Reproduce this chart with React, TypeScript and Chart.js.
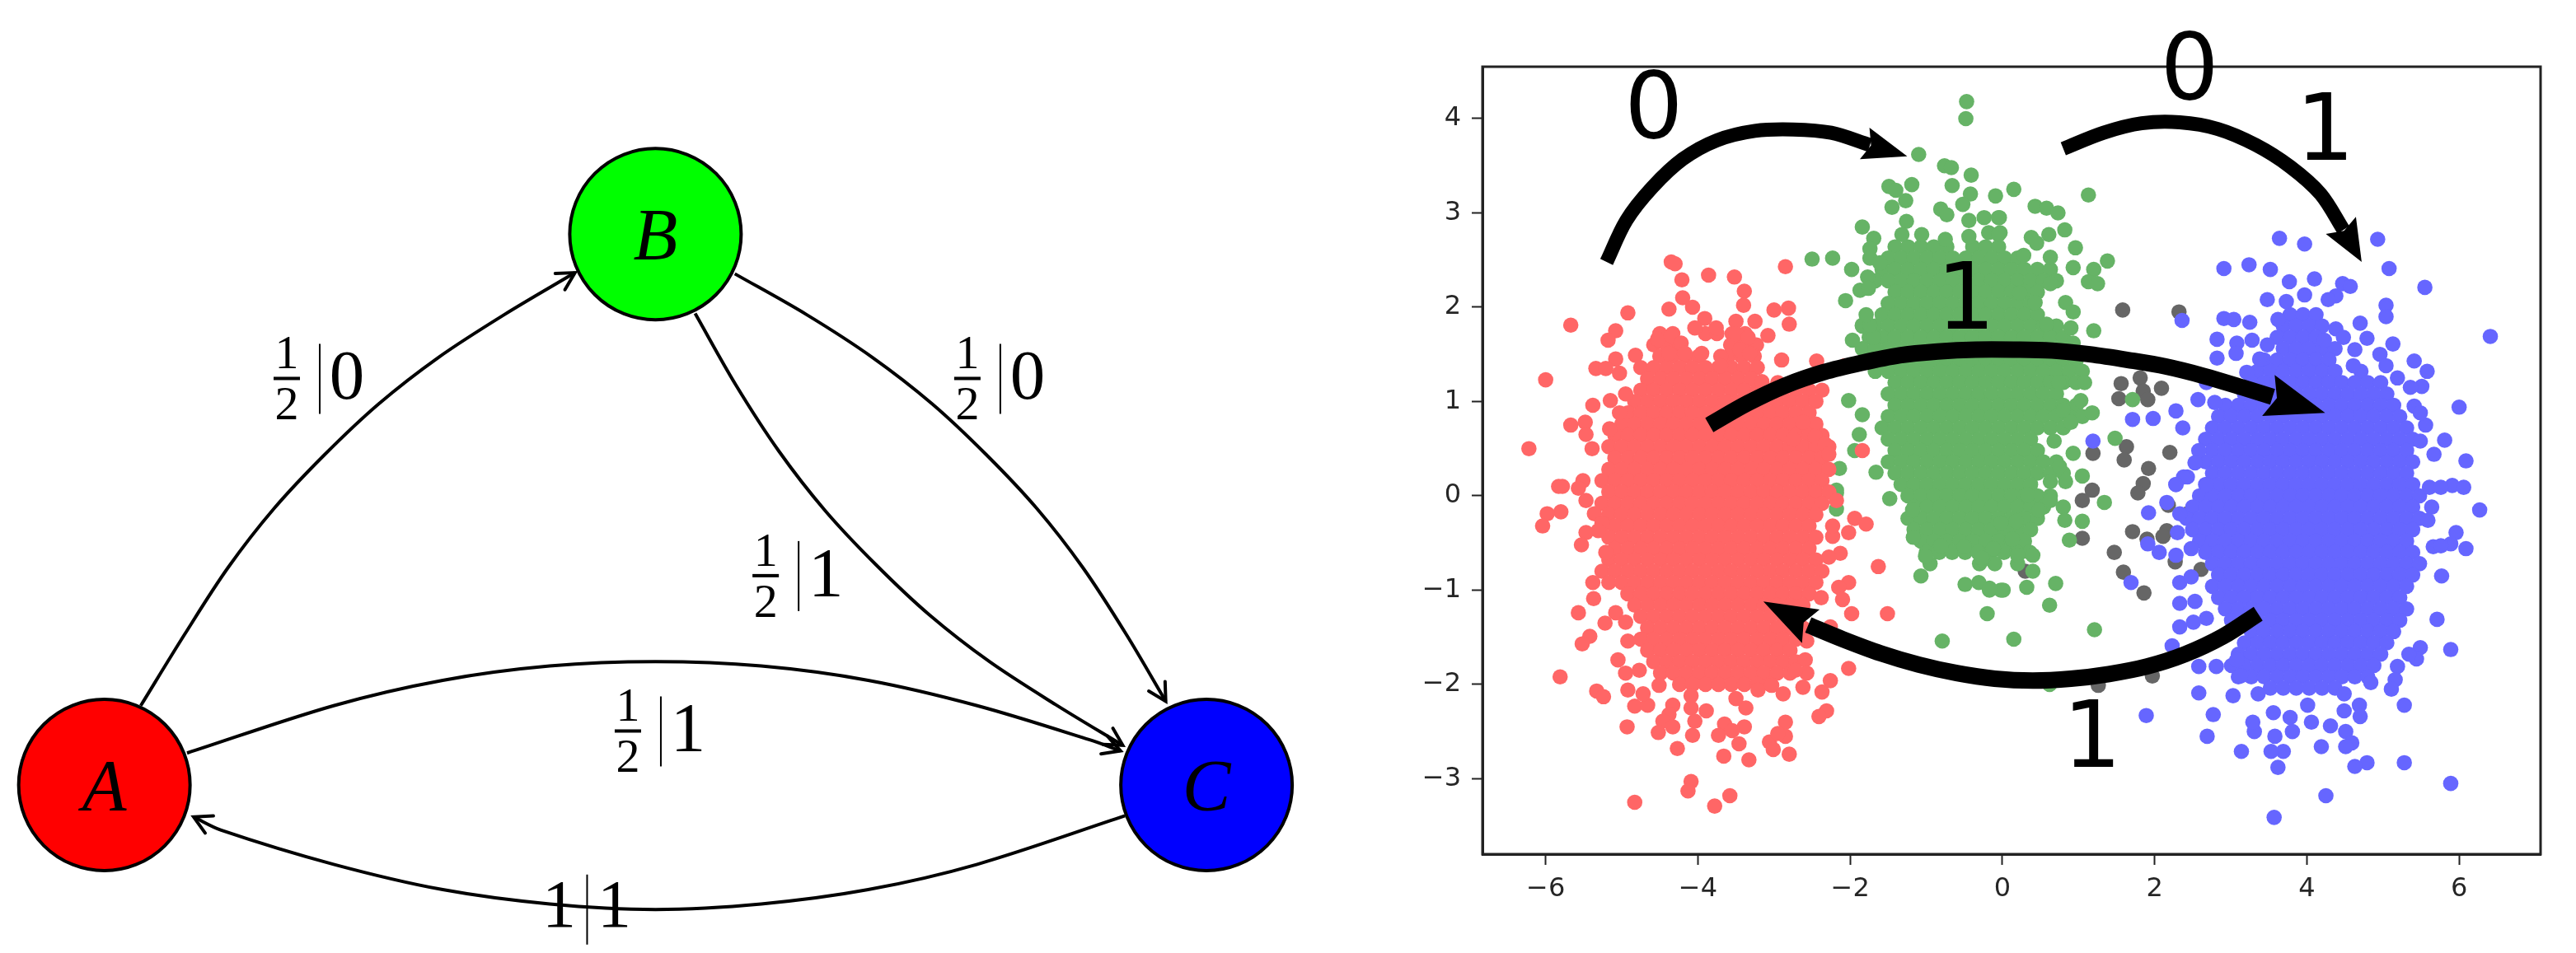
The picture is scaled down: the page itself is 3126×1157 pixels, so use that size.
import React, { useEffect, useRef } from 'react';
import Chart from 'chart.js/auto';

// ---- state diagram ----
const nodeNames = ['A', 'B', 'C'];
const nodeX = [0, 5, 10];
const nodeY = [0, 5, 0];
const nodeColors = ['#ff0000', '#00ff00', '#0000ff'];

const edgeAB = [[0.33, 0.72], [0.73, 1.37], [1.12, 1.97], [1.54, 2.51], [2.0, 3.0], [2.49, 3.46], [3.03, 3.88], [3.63, 4.27], [4.27, 4.65]];
const edgeBCouter = [[5.72, 4.64], [6.37, 4.27], [6.97, 3.88], [7.51, 3.46], [8.0, 3.0], [8.46, 2.51], [8.88, 1.97], [9.27, 1.37], [9.63, 0.76]];
const edgeBCinner = [[5.36, 4.28], [5.73, 3.63], [6.12, 3.03], [6.54, 2.49], [7.0, 2.0], [7.49, 1.54], [8.03, 1.12], [8.63, 0.73], [9.24, 0.36]];
const edgeAC = [[0.75, 0.29], [2.08, 0.72], [3.07, 0.95], [4.04, 1.08], [5, 1.12], [5.96, 1.08], [6.93, 0.95], [7.92, 0.72], [8.94, 0.41], [9.22, 0.31]];
const edgeCA = [[9.26, -0.28], [7.92, -0.72], [6.93, -0.95], [5.96, -1.08], [5, -1.13], [4.04, -1.08], [3.07, -0.95], [2.08, -0.72], [1.06, -0.41], [0.81, -0.29]];
const edges = [edgeAB, edgeBCouter, edgeBCinner, edgeAC, edgeCA];

const fractionLabels: [number, number, string][] = [
  [1.655, 3.69, '0'],
  [7.83, 3.69, '0'],
  [6.0, 1.9, '1'],
  [4.75, 0.49, '1'],
];
const wholeLabel: [number, number, string, string] = [4.38, -1.127, '1', '1'];

// ---- scatter ----
const xTicks = [-6, -4, -2, 0, 2, 4, 6];
const yTicks = [-3, -2, -1, 0, 1, 2, 3, 4];

// each row: y, then the x values along that row
const redCore = [
  [1.72, -4.5, -4.33, -3.9, -3.75, -3.55, -3.38],
  [1.6, -4.58, -4.41, -4.24, -3.57, -3.4, -3.23],
  [1.48, -4.5, -4.33, -4.16, -3.99, -3.6, -3.43, -3.26],
  [1.36, -4.75, -4.58, -4.41, -4.24, -4.07, -3.9, -3.73, -3.56, -3.39, -3.22],
  [1.24, -4.66, -4.49, -4.32, -4.15, -3.98, -3.81, -3.64, -3.47, -3.3],
  [1.12, -4.75, -4.58, -4.41, -4.24, -4.07, -3.9, -3.73, -3.56, -3.39, -3.22, -3.05, -2.88, -2.71, -2.54, -2.37],
  [1.0, -4.83, -4.66, -4.49, -4.32, -4.15, -3.98, -3.81, -3.64, -3.47, -3.3, -3.13, -2.96, -2.79, -2.62, -2.45],
  [0.88, -4.92, -4.75, -4.58, -4.41, -4.24, -4.07, -3.9, -3.73, -3.56, -3.39, -3.22, -3.05, -2.88, -2.71, -2.54],
  [0.76, -5, -4.83, -4.66, -4.49, -4.32, -4.15, -3.98, -3.81, -3.64, -3.47, -3.3, -3.13, -2.96, -2.79, -2.62, -2.45],
  [0.64, -5.09, -4.92, -4.75, -4.58, -4.41, -4.24, -4.07, -3.9, -3.73, -3.56, -3.39, -3.22, -3.05, -2.88, -2.71, -2.54, -2.37],
  [0.52, -5.17, -5, -4.83, -4.66, -4.49, -4.32, -4.15, -3.98, -3.81, -3.64, -3.47, -3.3, -3.13, -2.96, -2.79, -2.62, -2.45, -2.28],
  [0.4, -5.09, -4.92, -4.75, -4.58, -4.41, -4.24, -4.07, -3.9, -3.73, -3.56, -3.39, -3.22, -3.05, -2.88, -2.71, -2.54, -2.37],
  [0.28, -5.17, -5, -4.83, -4.66, -4.49, -4.32, -4.15, -3.98, -3.81, -3.64, -3.47, -3.3, -3.13, -2.96, -2.79, -2.62, -2.45, -2.28],
  [0.16, -5.26, -5.09, -4.92, -4.75, -4.58, -4.41, -4.24, -4.07, -3.9, -3.73, -3.56, -3.39, -3.22, -3.05, -2.88, -2.71, -2.54, -2.37],
  [0.04, -5.17, -5, -4.83, -4.66, -4.49, -4.32, -4.15, -3.98, -3.81, -3.64, -3.47, -3.3, -3.13, -2.96, -2.79, -2.62, -2.45, -2.28],
  [-0.08, -5.26, -5.09, -4.92, -4.75, -4.58, -4.41, -4.24, -4.07, -3.9, -3.73, -3.56, -3.39, -3.22, -3.05, -2.88, -2.71, -2.54, -2.37],
  [-0.2, -5.17, -5, -4.83, -4.66, -4.49, -4.32, -4.15, -3.98, -3.81, -3.64, -3.47, -3.3, -3.13, -2.96, -2.79, -2.62, -2.45],
  [-0.32, -5.26, -5.09, -4.92, -4.75, -4.58, -4.41, -4.24, -4.07, -3.9, -3.73, -3.56, -3.39, -3.22, -3.05, -2.88, -2.71, -2.54],
  [-0.44, -5.17, -5, -4.83, -4.66, -4.49, -4.32, -4.15, -3.98, -3.81, -3.64, -3.47, -3.3, -3.13, -2.96, -2.79, -2.62, -2.45],
  [-0.56, -5.09, -4.92, -4.75, -4.58, -4.41, -4.24, -4.07, -3.9, -3.73, -3.56, -3.39, -3.22, -3.05, -2.88, -2.71, -2.54],
  [-0.68, -5.17, -5, -4.83, -4.66, -4.49, -4.32, -4.15, -3.98, -3.81, -3.64, -3.47, -3.3, -3.13, -2.96, -2.79, -2.62, -2.45],
  [-0.8, -5.26, -5.09, -4.92, -4.75, -4.58, -4.41, -4.24, -4.07, -3.9, -3.73, -3.56, -3.39, -3.22, -3.05, -2.88, -2.71, -2.54, -2.37],
  [-0.92, -5.17, -5, -4.83, -4.66, -4.49, -4.32, -4.15, -3.98, -3.81, -3.64, -3.47, -3.3, -3.13, -2.96, -2.79, -2.62, -2.45],
  [-1.04, -4.92, -4.75, -4.58, -4.41, -4.24, -4.07, -3.9, -3.73, -3.56, -3.39, -3.22, -3.05, -2.88, -2.71, -2.54],
  [-1.16, -4.83, -4.66, -4.49, -4.32, -4.15, -3.98, -3.81, -3.64, -3.47, -3.3, -3.13, -2.96, -2.79, -2.62],
  [-1.28, -4.75, -4.58, -4.41, -4.24, -4.07, -3.9, -3.73, -3.56, -3.39, -3.22, -3.05, -2.88, -2.71],
  [-1.4, -4.66, -4.49, -4.32, -4.15, -3.98, -3.81, -3.64, -3.47, -3.3, -3.13, -2.96, -2.79, -2.62],
  [-1.52, -4.75, -4.58, -4.41, -4.24, -4.07, -3.9, -3.73, -3.56, -3.39, -3.22, -3.05, -2.88, -2.71],
  [-1.64, -4.66, -4.49, -4.32, -4.15, -3.98, -3.81, -3.64, -3.47, -3.3, -3.13, -2.96, -2.79],
  [-1.76, -4.58, -4.41, -4.24, -4.07, -3.9, -3.73, -3.56, -3.39, -3.22, -3.05, -2.88, -2.71],
  [-1.88, -4.49, -4.32, -4.15, -3.98, -3.81, -3.64, -3.47, -3.3, -3.13, -2.96, -2.79],
  [-2.0, -4.24, -4.07, -3.9, -3.73, -3.56, -3.39, -3.22, -3.05],
];

const redScatter = [
  [-4.35, 2.48], [-4.3, 2.46], [-2.85, 2.43], [-3.86, 2.34], [-3.52, 2.32], [-4.21, 2.29], [-3.39, 2.17], [-4.2, 2.1],
  [-4.07, 2.0], [-3.4, 2.02], [-4.38, 1.98], [-3.0, 1.97], [-2.81, 1.99], [-4.92, 1.94], [-3.91, 1.88], [-3.5, 1.85],
  [-3.25, 1.85], [-5.67, 1.81], [-2.8, 1.82], [-5.08, 1.75], [-5.18, 1.65], [-4.53, 1.66], [-4.35, 1.7], [-4.22, 1.62],
  [-4.04, 1.78], [-3.76, 1.78], [-3.5, 1.72], [-3.34, 1.68], [-3.08, 1.7], [-3.45, 1.55], [-3.32, 1.51], [-4.82, 1.49],
  [-4.38, 1.51], [-4.17, 1.51], [-3.95, 1.51], [-3.7, 1.48], [-3.7, 1.38], [-5.08, 1.45], [-2.9, 1.44], [-2.44, 1.43],
  [-2.07, 1.38], [-5.34, 1.35], [-5.21, 1.35], [-5.03, 1.3], [-6.0, 1.23], [-3.16, 1.21], [-2.95, 1.2], [-4.95, 1.08],
  [-5.15, 1.01], [-5.38, 0.96], [-5.67, 0.75], [-5.48, 0.78], [-5.47, 0.65], [-6.22, 0.5], [-5.39, 0.5], [-5.03, 0.88],
  [-5.16, 0.71], [-2.75, 0.6], [-2.46, 0.63], [-2.33, 0.55], [-2.28, 0.44], [-1.84, 0.48], [-2.62, 0.78],
  [-5.83, 0.1], [-5.78, 0.1], [-5.51, 0.16], [-5.57, 0.08], [-5.47, -0.05], [-5.36, -0.19], [-5.26, -0.29], [-5.8, -0.17],
  [-5.98, -0.19], [-6.04, -0.32], [-5.47, -0.39], [-5.31, -0.37], [-5.53, -0.52], [-5.21, -0.6], [-5.38, -0.92], [-5.37, -1.09],
  [-5.57, -1.24], [-5.22, -1.35], [-5.08, -1.24], [-4.95, -1.34], [-5.42, -1.49], [-5.52, -1.57], [-4.92, -1.54], [-5.05, -1.74],
  [-4.95, -1.88], [-4.77, -1.85], [-4.92, -2.06], [-5.81, -1.92], [-5.33, -2.07], [-5.24, -2.13], [-4.83, -2.23], [-4.66, -2.22],
  [-4.72, -2.1], [-4.51, -2.01], [-4.33, -2.22], [-4.38, -2.32], [-4.46, -2.39], [-4.33, -2.45], [-4.93, -2.45], [-4.52, -2.51],
  [-4.09, -2.25], [-3.89, -2.28], [-4.04, -2.39], [-4.07, -2.54], [-4.09, -2.12], [-4.27, -2.68], [-3.65, -2.42], [-3.73, -2.54],
  [-3.39, -2.45], [-3.55, -2.49], [-3.46, -2.63], [-3.37, -2.25], [-3.5, -2.15], [-3.66, -2.76], [-3.33, -2.8], [-3.21, -2.06],
  [-3.03, -2.01], [-2.88, -2.1], [-2.85, -2.4], [-2.85, -2.55], [-3.06, -2.61], [-2.95, -2.52], [-2.8, -2.74], [-3.01, -2.69],
  [-4.09, -3.03], [-4.13, -3.13], [-3.58, -3.18], [-3.78, -3.29], [-4.83, -3.25], [-2.59, -1.74], [-2.57, -1.88], [-2.62, -2.03],
  [-2.72, -1.85], [-2.26, -1.96], [-2.37, -2.08], [-2.31, -2.28], [-2.41, -2.34], [-2.02, -1.83], [-2.26, -1.39], [-2.57, -1.54],
  [-1.98, -1.25], [-1.51, -1.25], [-1.63, -0.75], [-2.02, -0.92], [-2.15, -0.97], [-2.1, -1.1], [-2.38, -1.08], [-2.13, -0.61],
  [-2.28, -0.65], [-2.23, -0.43], [-2.02, -0.39], [-1.94, -0.24], [-1.79, -0.3], [-2.23, -0.32], [-2.18, -0.05],
];

const greenCore = [
  [2.64, -1.41, -1.24, -1.07, -0.9, -0.73, -0.39, -0.22, -0.05],
  [2.52, -1.5, -1.33, -1.16, -0.99, -0.82, -0.65, -0.48, -0.31, -0.14, 0.03, 0.2],
  [2.4, -1.58, -1.41, -1.24, -1.07, -0.9, -0.73, -0.56, -0.39, -0.22, -0.05, 0.12, 0.29, 0.46, 0.63],
  [2.28, -1.67, -1.5, -1.33, -1.16, -0.99, -0.82, -0.65, -0.48, -0.31, -0.14, 0.03, 0.2, 0.37, 0.54, 0.71],
  [2.16, -1.41, -1.24, -1.07, -0.9, -0.73, -0.56, -0.39, -0.22, -0.05, 0.12, 0.29, 0.46],
  [2.04, -1.5, -1.33, -1.16, -0.99, -0.82, -0.65, -0.48, -0.31, -0.14, 0.03, 0.2, 0.37],
  [1.92, -1.58, -1.41, -1.24, -1.07, -0.9, -0.73, -0.56, -0.39, -0.22, -0.05, 0.12, 0.29, 0.46],
  [1.8, -1.84, -1.67, -1.5, -1.33, -1.16, -0.99, -0.82, -0.65, -0.48, -0.31, -0.14, 0.03, 0.2, 0.37, 0.54, 0.71],
  [1.68, -1.75, -1.58, -1.41, -1.24, -1.07, -0.9, -0.73, -0.56, -0.39, -0.22, -0.05, 0.12, 0.29, 0.46, 0.63, 0.8],
  [1.56, -1.84, -1.67, -1.5, -1.33, -1.16, -0.99, -0.82, -0.65, -0.48, -0.31, -0.14, 0.03, 0.2, 0.37, 0.54, 0.71, 0.88],
  [1.44, -1.75, -1.58, -1.41, -1.24, -1.07, -0.9, -0.73, -0.56, -0.39, -0.22, -0.05, 0.12, 0.29, 0.46, 0.63, 0.8, 0.97],
  [1.32, -1.67, -1.5, -1.33, -1.16, -0.99, -0.82, -0.65, -0.48, -0.31, -0.14, 0.03, 0.2, 0.37, 0.54, 0.71, 0.88, 1.05],
  [1.2, -1.41, -1.24, -1.07, -0.9, -0.73, -0.56, -0.39, -0.22, -0.05, 0.12, 0.29, 0.46, 0.63, 0.8, 0.97],
  [1.08, -1.5, -1.33, -1.16, -0.99, -0.82, -0.65, -0.48, -0.31, -0.14, 0.03, 0.2, 0.37, 0.54, 0.71],
  [0.96, -1.41, -1.24, -1.07, -0.9, -0.73, -0.56, -0.39, -0.22, -0.05, 0.12, 0.29, 0.46, 0.63, 0.8, 0.97],
  [0.84, -1.5, -1.33, -1.16, -0.99, -0.82, -0.65, -0.48, -0.31, -0.14, 0.03, 0.2, 0.37, 0.54, 0.71, 0.88, 1.05],
  [0.72, -1.58, -1.41, -1.24, -1.07, -0.9, -0.73, -0.56, -0.39, -0.22, -0.05, 0.12, 0.29, 0.46, 0.63, 0.8],
  [0.6, -1.5, -1.33, -1.16, -0.99, -0.82, -0.65, -0.48, -0.31, -0.14, 0.03, 0.2, 0.37],
  [0.48, -1.41, -1.24, -1.07, -0.9, -0.73, -0.56, -0.39, -0.22, -0.05, 0.12, 0.29, 0.46],
  [0.36, -1.5, -1.33, -1.16, -0.99, -0.82, -0.65, -0.48, -0.31, -0.14, 0.03, 0.2, 0.37, 0.54, 0.71],
  [0.24, -1.41, -1.24, -1.07, -0.9, -0.73, -0.56, -0.39, -0.22, -0.05, 0.12, 0.29, 0.46, 0.63, 0.8],
  [0.12, -1.33, -1.16, -0.99, -0.82, -0.65, -0.48, -0.31, -0.14, 0.03, 0.2, 0.37],
  [0.0, -1.24, -1.07, -0.9, -0.73, -0.56, -0.39, -0.22, -0.05, 0.12, 0.29, 0.46, 0.63],
  [-0.12, -1.16, -0.99, -0.82, -0.65, -0.48, -0.31, -0.14, 0.03, 0.2, 0.37, 0.54],
  [-0.24, -1.24, -1.07, -0.9, -0.73, -0.56, -0.39, -0.22, -0.05, 0.12, 0.29, 0.46],
  [-0.36, -1.16, -0.99, -0.82, -0.65, -0.48, -0.31, -0.14, 0.03, 0.2, 0.37],
  [-0.48, -1.07, -0.9, -0.73, -0.56, -0.39, -0.22, -0.05, 0.12, 0.29],
  [-0.6, -1.0, -0.83, -0.66, -0.49, -0.32, -0.15, 0.02, 0.19, 0.36],
  [-0.72, -0.95, -0.3, -0.1, 0.2],
];

const greenScatter = [
  [-0.47, 4.18], [-0.48, 4.0], [-1.1, 3.62], [-0.76, 3.5], [-0.67, 3.48], [-0.41, 3.4], [-1.49, 3.28], [-1.19, 3.3], [-1.4, 3.24],
  [-0.66, 3.29], [-0.42, 3.2], [-0.09, 3.18], [0.15, 3.25], [-1.27, 3.13], [-1.45, 3.06], [-0.81, 3.04], [-0.73, 2.98], [-0.52, 3.09],
  [-1.26, 2.91], [-1.84, 2.85], [-1.69, 2.73], [-1.74, 2.62], [-0.44, 2.92], [-0.24, 2.95], [-0.04, 2.95], [-0.03, 2.79], [-1.32, 2.77],
  [-1.06, 2.77], [-0.75, 2.72], [-0.44, 2.75], [-0.18, 2.79], [-2.5, 2.51], [-2.23, 2.52], [-1.98, 2.4], [-1.77, 2.32], [-1.74, 2.52],
  [-1.61, 2.47], [-1.87, 2.18], [-2.06, 2.07], [-1.76, 2.2], [-1.84, 1.81], [-1.69, 1.68], [-1.97, 1.65], [-1.74, 1.81], [-1.79, 1.92],
  [-2.02, 1.01], [-1.84, 0.86], [-1.88, 0.65], [-1.94, 0.48], [-2.14, 0.29], [-1.66, 0.25], [-2.18, 0.06], [-2.18, 0.03], [-2.18, -0.14],
  [-1.48, -0.03], [-1.18, -0.15], [-1.17, -0.44], [-1.01, -0.64], [-1.07, -0.85], [-0.49, -0.94], [-0.31, -0.92], [-0.17, -1.0], [0.01, -1.0],
  [-0.2, -1.25], [-0.79, -1.54], [0.15, -1.52], [-0.81, -0.53], [-0.5, -0.54], [-0.26, -0.68], [0.4, -0.8], [0.32, -0.97], [0.7, -0.93],
  [0.62, -1.16], [1.21, -1.42], [-0.02, -1.0], [-0.17, -0.98], [0.4, -0.63], [0.2, -0.63], [0.18, -0.27], [0.63, -0.05], [0.8, -0.12],
  [0.82, -0.26], [0.48, -0.15], [1.05, -0.27], [0.88, -0.47], [1.34, -0.07], [1.05, 0.21], [0.83, 0.15], [0.63, 0.15], [0.33, 0.01],
  [-0.02, -0.29], [0.13, -0.46], [-0.12, -0.56], [-0.27, -0.66], [1.13, 3.19], [0.43, 3.07], [0.58, 3.05], [0.73, 3.0], [0.82, 2.82],
  [0.61, 2.77], [0.38, 2.74], [0.45, 2.68], [0.96, 2.63], [0.93, 2.42], [1.38, 2.49], [1.2, 2.4], [1.13, 2.27], [1.25, 2.25], [0.63, 2.25],
  [0.63, 2.53], [0.28, 2.55], [0.83, 2.05], [0.93, 1.95], [0.9, 1.78], [1.2, 1.75], [0.43, 2.05], [0.58, 1.82], [0.23, 2.15], [-0.05, 2.95],
  [-0.05, 2.77], [0.93, 1.62], [1.08, 1.2], [0.74, 1.2], [1.03, 1.01], [1.18, 0.88], [0.9, 0.78], [1.71, 1.02], [1.48, 0.61], [0.93, 0.45],
  [0.8, 0.91], [0.68, 0.58], [0.75, 0.31], [0.62, -2.0],
];

const blueCore = [
  [1.92, 3.78, 3.95, 4.12],
  [1.8, 3.69, 3.86, 4.03, 4.2],
  [1.68, 3.61, 3.78, 3.95, 4.12],
  [1.56, 3.69, 3.86, 4.03, 4.2, 4.37],
  [1.44, 3.44, 3.61, 3.78, 3.95, 4.12, 4.29],
  [1.32, 3.35, 3.52, 3.69, 3.86, 4.03, 4.2, 4.37, 4.71],
  [1.2, 3.27, 3.44, 3.61, 3.78, 3.95, 4.12, 4.29, 4.46, 4.63, 4.8, 4.97],
  [1.08, 3.18, 3.35, 3.52, 3.69, 3.86, 4.03, 4.2, 4.37, 4.54, 4.71, 4.88, 5.05],
  [0.96, 2.93, 3.1, 3.27, 3.44, 3.61, 3.78, 3.95, 4.12, 4.29, 4.46, 4.63, 4.8, 4.97, 5.14],
  [0.84, 2.84, 3.01, 3.18, 3.35, 3.52, 3.69, 3.86, 4.03, 4.2, 4.37, 4.54, 4.71, 4.88, 5.05, 5.22],
  [0.72, 2.76, 2.93, 3.1, 3.27, 3.44, 3.61, 3.78, 3.95, 4.12, 4.29, 4.46, 4.63, 4.8, 4.97, 5.14, 5.31],
  [0.6, 2.67, 2.84, 3.01, 3.18, 3.35, 3.52, 3.69, 3.86, 4.03, 4.2, 4.37, 4.54, 4.71, 4.88, 5.05, 5.22, 5.39],
  [0.48, 2.76, 2.93, 3.1, 3.27, 3.44, 3.61, 3.78, 3.95, 4.12, 4.29, 4.46, 4.63, 4.8, 4.97, 5.14, 5.31],
  [0.36, 2.67, 2.84, 3.01, 3.18, 3.35, 3.52, 3.69, 3.86, 4.03, 4.2, 4.37, 4.54, 4.71, 4.88, 5.05, 5.22, 5.39],
  [0.24, 2.76, 2.93, 3.1, 3.27, 3.44, 3.61, 3.78, 3.95, 4.12, 4.29, 4.46, 4.63, 4.8, 4.97, 5.14, 5.31],
  [0.12, 2.67, 2.84, 3.01, 3.18, 3.35, 3.52, 3.69, 3.86, 4.03, 4.2, 4.37, 4.54, 4.71, 4.88, 5.05, 5.22, 5.39],
  [0.0, 2.59, 2.76, 2.93, 3.1, 3.27, 3.44, 3.61, 3.78, 3.95, 4.12, 4.29, 4.46, 4.63, 4.8, 4.97, 5.14, 5.31, 5.48],
  [-0.12, 2.5, 2.67, 2.84, 3.01, 3.18, 3.35, 3.52, 3.69, 3.86, 4.03, 4.2, 4.37, 4.54, 4.71, 4.88, 5.05, 5.22, 5.39],
  [-0.24, 2.42, 2.59, 2.76, 2.93, 3.1, 3.27, 3.44, 3.61, 3.78, 3.95, 4.12, 4.29, 4.46, 4.63, 4.8, 4.97, 5.14, 5.31, 5.48],
  [-0.36, 2.5, 2.67, 2.84, 3.01, 3.18, 3.35, 3.52, 3.69, 3.86, 4.03, 4.2, 4.37, 4.54, 4.71, 4.88, 5.05, 5.22, 5.39],
  [-0.48, 2.59, 2.76, 2.93, 3.1, 3.27, 3.44, 3.61, 3.78, 3.95, 4.12, 4.29, 4.46, 4.63, 4.8, 4.97, 5.14, 5.31],
  [-0.6, 2.67, 2.84, 3.01, 3.18, 3.35, 3.52, 3.69, 3.86, 4.03, 4.2, 4.37, 4.54, 4.71, 4.88, 5.05, 5.22, 5.39],
  [-0.72, 2.76, 2.93, 3.1, 3.27, 3.44, 3.61, 3.78, 3.95, 4.12, 4.29, 4.46, 4.63, 4.8, 4.97, 5.14, 5.31, 5.48],
  [-0.84, 2.84, 3.01, 3.18, 3.35, 3.52, 3.69, 3.86, 4.03, 4.2, 4.37, 4.54, 4.71, 4.88, 5.05, 5.22, 5.39],
  [-0.96, 2.76, 2.93, 3.1, 3.27, 3.44, 3.61, 3.78, 3.95, 4.12, 4.29, 4.46, 4.63, 4.8, 4.97, 5.14, 5.31],
  [-1.08, 2.84, 3.01, 3.18, 3.35, 3.52, 3.69, 3.86, 4.03, 4.2, 4.37, 4.54, 4.71, 4.88, 5.05, 5.22],
  [-1.2, 2.93, 3.1, 3.27, 3.44, 3.61, 3.78, 3.95, 4.12, 4.29, 4.46, 4.63, 4.8, 4.97, 5.14, 5.31],
  [-1.32, 3.01, 3.18, 3.35, 3.52, 3.69, 3.86, 4.03, 4.2, 4.37, 4.54, 4.71, 4.88, 5.05, 5.22],
  [-1.44, 3.27, 3.44, 3.61, 3.78, 3.95, 4.12, 4.29, 4.46, 4.63, 4.8, 4.97, 5.14],
  [-1.56, 3.18, 3.35, 3.52, 3.69, 3.86, 4.03, 4.2, 4.37, 4.54, 4.71, 4.88, 5.05],
  [-1.68, 3.1, 3.27, 3.44, 3.61, 3.78, 3.95, 4.12, 4.29, 4.46, 4.63, 4.8, 4.97],
  [-1.8, 3.01, 3.18, 3.35, 3.52, 3.69, 3.86, 4.03, 4.2, 4.37, 4.54, 4.71, 4.88],
  [-1.92, 3.1, 3.27, 3.44, 3.61, 3.78, 3.95, 4.12, 4.29, 4.46, 4.63, 4.8],
  [-2.04, 3.52, 3.69, 3.86, 4.03, 4.2, 4.37],
];

const blueScatter = [
  [3.64, 2.73], [3.97, 2.67], [4.93, 2.72], [5.08, 2.41], [2.91, 2.41], [3.24, 2.45], [3.52, 2.4], [3.77, 2.27], [4.1, 2.3], [4.47, 2.25],
  [4.57, 2.22], [5.55, 2.21], [3.48, 2.08], [3.73, 2.06], [3.97, 2.13], [4.38, 2.12], [4.28, 2.08], [5.04, 2.02], [5.04, 1.9], [2.36, 1.86],
  [2.91, 1.88], [3.04, 1.87], [3.25, 1.84], [3.62, 1.87], [4.7, 1.83], [6.41, 1.69], [2.82, 1.66], [4.38, 1.77], [4.48, 1.68], [4.79, 1.67],
  [4.23, 1.65], [3.08, 1.62], [3.28, 1.65], [3.48, 1.6], [5.13, 1.61], [2.82, 1.46], [3.07, 1.51], [3.38, 1.45], [5.41, 1.43], [5.58, 1.32],
  [4.63, 1.55], [4.96, 1.5], [5.04, 1.38], [4.61, 1.38], [5.19, 1.25], [5.51, 1.16], [5.36, 1.15], [3.21, 1.31], [2.68, 1.2], [2.57, 1.02],
  [2.79, 0.99], [2.28, 0.9], [2.37, 0.72], [1.71, 0.81], [1.98, 0.82], [6.0, 0.94], [5.41, 0.95], [5.56, 0.75], [5.49, 0.88], [5.81, 0.59],
  [5.67, 0.44], [6.09, 0.37], [5.49, 0.58], [1.19, 0.58], [2.58, 0.48], [2.53, 0.35], [2.28, 0.12], [2.43, 0.2], [5.61, 0.09], [5.91, 0.11],
  [6.06, 0.09], [5.76, 0.09], [6.27, -0.15], [5.64, -0.12], [5.59, -0.26], [5.96, -0.39], [5.66, -0.54], [5.89, -0.51], [6.09, -0.56],
  [5.76, -0.53], [5.77, -0.85], [5.71, -1.31], [5.89, -1.63], [5.49, -1.61], [5.44, -1.73], [5.34, -1.68], [5.19, -1.81], [5.16, -1.95],
  [5.11, -2.05], [5.28, -2.22], [4.84, -1.98], [4.69, -2.22], [4.7, -2.34], [4.49, -2.28], [4.31, -2.44], [4.49, -2.1], [4.51, -2.5],
  [4.59, -2.62], [4.51, -2.66], [4.19, -2.66], [5.28, -2.83], [4.79, -2.83], [4.63, -2.87], [5.89, -3.05], [4.25, -3.18], [3.57, -3.41],
  [3.62, -2.88], [3.69, -2.71], [3.53, -2.71], [3.58, -2.55], [3.14, -2.71], [3.31, -2.5], [3.29, -2.4], [2.69, -2.55], [2.77, -2.32],
  [1.89, -2.33], [2.58, -2.09], [3.03, -2.12], [3.36, -2.1], [3.56, -2.3], [3.78, -2.35], [3.81, -2.5], [4.06, -2.4], [4.01, -2.22],
  [2.58, -1.81], [2.81, -1.81], [3.13, -1.91], [3.08, -1.74], [2.23, -1.59], [2.33, -1.39], [2.51, -1.34], [2.33, -1.14], [2.53, -1.12],
  [2.68, -1.3], [2.33, -0.92], [2.48, -0.86], [2.28, -0.63], [2.06, -0.6], [1.91, -0.51], [1.69, -0.92], [1.92, -0.18], [2.16, -0.07],
  [2.33, -0.19], [2.3, -0.39], [2.48, -0.56], [2.38, 0.2], [2.28, 0.12], [2.68, 0.12],
];

const grayScatter = [
  [1.58, 1.97], [2.32, 1.95], [0.6, 1.21], [0.85, 1.23], [1.56, 1.19], [1.81, 1.25], [2.09, 1.14], [1.85, 1.11], [1.53, 1.03], [1.91, 1.02],
  [1.63, 0.52], [1.19, 0.45], [1.6, 0.38], [2.2, 0.46], [1.92, 0.29], [1.85, 0.13], [1.78, 0.03], [1.18, 0.06], [1.05, -0.05], [2.18, -0.1],
  [2.43, -0.19], [1.71, -0.38], [2.16, -0.37], [2.11, -0.43], [1.9, -0.46], [1.05, -0.45], [1.47, -0.6], [2.27, -0.7], [2.61, -0.78],
  [1.59, -0.81], [0.3, -0.8], [1.86, -1.03], [1.97, -1.91], [1.26, -2.01],
];

// overlaid arrows: the shaft, then where the tip lands
const arrowBShaft = [[-5.2, 2.48], [-4.94, 2.92], [-4.6, 3.27], [-4.2, 3.57], [-3.75, 3.77], [-3.25, 3.87], [-2.75, 3.885], [-2.25, 3.85], [-1.74, 3.72]];
const arrowCShaft = [[0.8, 3.68], [1.33, 3.85], [1.83, 3.95], [2.33, 3.96], [2.83, 3.89], [3.33, 3.72], [3.78, 3.49], [4.18, 3.2], [4.48, 2.82]];
const arrowMidShaft = [[-3.85, 0.75], [-3.35, 0.98], [-2.85, 1.17], [-2.35, 1.31], [-1.85, 1.41], [-1.35, 1.49], [-0.85, 1.53], [-0.35, 1.55], [0.15, 1.55], [0.65, 1.54], [1.15, 1.5], [1.65, 1.44], [2.15, 1.37], [2.65, 1.27], [3.15, 1.15], [3.55, 1.05]];
const arrowLowShaft = [[3.36, -1.25], [2.9, -1.49], [2.4, -1.68], [1.9, -1.81], [1.4, -1.89], [0.9, -1.94], [0.4, -1.96], [-0.1, -1.94], [-0.6, -1.88], [-1.1, -1.79], [-1.6, -1.67], [-2.1, -1.52], [-2.55, -1.37]];
const arrowShafts = [arrowBShaft, arrowCShaft, arrowMidShaft, arrowLowShaft];
const arrowTips = [[-1.25, 3.6], [4.72, 2.48], [4.24, 0.88], [-3.14, -1.12]];
const arrowWidths = [17, 17, 20, 20];
const arrowHeads = [[54, 20], [51, 21], [72, 26], [65, 23]];

const bigDigits: [number, number, string][] = [
  [-4.58, 3.8, '0'],
  [2.46, 4.21, '0'],
  [4.24, 3.56, '1'],
  [-0.48, 1.77, '1'],
  [1.18, -2.87, '1'],
];

const toXY = (p: number[][]) => p.map(([x, y]) => ({ x, y }));
const rowsToXY = (rows: number[][]) => rows.flatMap(([y, ...xs]) => xs.map((x) => ({ x, y })));

const SERIF = '"Liberation Serif", serif';
const SANS = '"DejaVu Sans", sans-serif';

const diagramPlugin = {
  id: 'diagramText',
  afterDraw(chart: any) {
    const { ctx, scales } = chart;
    const px = (v: number) => scales.x.getPixelForValue(v);
    const py = (v: number) => scales.y.getPixelForValue(v);
    ctx.save();
    ctx.fillStyle = '#000';
    ctx.strokeStyle = '#000';
    ctx.textAlign = 'center';
    ctx.textBaseline = 'alphabetic';

    // arrow heads, open style
    ctx.lineWidth = 4;
    ctx.lineCap = 'round';
    edges.forEach((e) => {
      const [tx, ty] = e[e.length - 1];
      const [bx, by] = e[e.length - 2];
      const a = Math.atan2(py(ty) - py(by), px(tx) - px(bx));
      ctx.beginPath();
      ctx.moveTo(px(tx) - 24 * Math.cos(a - 0.5), py(ty) - 24 * Math.sin(a - 0.5));
      ctx.lineTo(px(tx), py(ty));
      ctx.lineTo(px(tx) - 24 * Math.cos(a + 0.5), py(ty) - 24 * Math.sin(a + 0.5));
      ctx.stroke();
    });

    ctx.font = `italic 88px ${SERIF}`;
    nodeNames.forEach((n, i) => ctx.fillText(n, px(nodeX[i]), py(nodeY[i]) + 30));

    fractionLabels.forEach(([x, y, d]) => {
      const cx = px(x);
      const cy = py(y);
      ctx.font = `58px ${SERIF}`;
      ctx.fillText('1', cx, cy - 12);
      ctx.fillText('2', cx, cy + 50);
      ctx.fillRect(cx - 16, cy - 2, 32, 4);
      ctx.fillRect(cx + 39, cy - 42, 2, 85);
      ctx.font = `85px ${SERIF}`;
      ctx.fillText(d, cx + 73, cy + 25);
    });

    const [wx, wy, left, right] = wholeLabel;
    ctx.fillRect(px(wx) - 1, py(wy) - 42, 2, 85);
    ctx.font = `82px ${SERIF}`;
    ctx.fillText(left, px(wx) - 34, py(wy) + 21);
    ctx.fillText(right, px(wx) + 33, py(wy) + 21);
    ctx.restore();
  },
};

const scatterPlugin = {
  id: 'scatterOverlay',
  afterDraw(chart: any) {
    const { ctx, scales, chartArea } = chart;
    const px = (v: number) => scales.x.getPixelForValue(v);
    const py = (v: number) => scales.y.getPixelForValue(v);
    ctx.save();
    ctx.strokeStyle = '#222';
    ctx.lineWidth = 3;
    ctx.strokeRect(chartArea.left, chartArea.top, chartArea.right - chartArea.left, chartArea.bottom - chartArea.top);

    ctx.fillStyle = '#000';
    arrowTips.forEach(([tx, ty], i) => {
      const shaft = arrowShafts[i];
      const [bx, by] = shaft[shaft.length - 1];
      const [len, half] = arrowHeads[i];
      const a = Math.atan2(py(ty) - py(by), px(tx) - px(bx));
      const ux = Math.cos(a);
      const uy = Math.sin(a);
      const x = px(tx);
      const y = py(ty);
      ctx.beginPath();
      ctx.moveTo(x, y);
      ctx.lineTo(x - ux * len - uy * half, y - uy * len + ux * half);
      ctx.lineTo(x - ux * len * 0.85, y - uy * len * 0.85);
      ctx.lineTo(x - ux * len + uy * half, y - uy * len - ux * half);
      ctx.closePath();
      ctx.fill();
    });

    ctx.font = `112px ${SANS}`;
    ctx.textAlign = 'center';
    ctx.textBaseline = 'alphabetic';
    bigDigits.forEach(([x, y, d]) => ctx.fillText(d, px(x), py(y)));
    ctx.restore();
  },
};

const Diagram: React.FC = () => {
  const ref = useRef<HTMLCanvasElement>(null);
  useEffect(() => {
    if (!ref.current) return;
    const chart = new Chart(ref.current, {
      type: 'scatter',
      data: {
        datasets: [
          {
            label: 'states',
            data: nodeX.map((x, i) => ({ x, y: nodeY[i] })),
            pointRadius: 104,
            pointBackgroundColor: nodeColors,
            pointBorderColor: '#000',
            pointBorderWidth: 4,
            clip: false,
          },
          ...edges.map((e) => ({
            label: 'edge',
            data: toXY(e),
            showLine: true,
            tension: 0.33,
            borderColor: '#000',
            borderWidth: 4,
            pointRadius: 0,
            clip: false,
          })),
        ],
      } as any,
      options: {
        animation: false,
        responsive: false,
        devicePixelRatio: 1,
        events: [],
        layout: { padding: 0, autoPadding: false },
        plugins: { legend: { display: false }, tooltip: { enabled: false } },
        scales: {
          x: { type: 'linear', display: false, min: -0.947, max: 11.315 },
          y: { type: 'linear', display: false, min: -1.525, max: 7.125 },
        },
      },
      plugins: [diagramPlugin],
    });
    return () => chart.destroy();
  }, []);
  return <canvas ref={ref} width={1640} height={1157} style={{ position: 'absolute', left: 0, top: 0 }} />;
};

const Scatter: React.FC = () => {
  const ref = useRef<HTMLCanvasElement>(null);
  useEffect(() => {
    if (!ref.current) return;
    const dots = { pointRadius: 9.3, borderWidth: 0 };
    const chart = new Chart(ref.current, {
      type: 'scatter',
      data: {
        datasets: [
          ...arrowShafts.map((s, i) => ({
            label: 'arrow',
            data: toXY(s),
            showLine: true,
            tension: 0.33,
            borderColor: '#000',
            borderWidth: arrowWidths[i],
            pointRadius: 0,
            clip: false,
          })),
          { label: 'red', data: [...rowsToXY(redCore), ...toXY(redScatter)], backgroundColor: '#ff6666', ...dots },
          { label: 'green', data: [...rowsToXY(greenCore), ...toXY(greenScatter)], backgroundColor: '#66b366', ...dots },
          { label: 'blue', data: [...rowsToXY(blueCore), ...toXY(blueScatter)], backgroundColor: '#6666ff', ...dots },
          { label: 'gray', data: toXY(grayScatter), backgroundColor: '#666666', ...dots },
        ],
      } as any,
      options: {
        animation: false,
        responsive: false,
        devicePixelRatio: 1,
        events: [],
        layout: { padding: { top: 81, right: 43, left: 0, bottom: 0 }, autoPadding: false },
        plugins: { legend: { display: false }, tooltip: { enabled: false } },
        scales: {
          x: {
            type: 'linear',
            min: -6.83,
            max: 7.07,
            afterBuildTicks: (s: any) => { s.ticks = xTicks.map((value) => ({ value })); },
            afterFit: (s: any) => { s.height = 120; },
            grid: { drawOnChartArea: false, tickLength: 13, tickColor: '#222', tickWidth: 2 },
            border: { color: '#222', width: 3 },
            ticks: {
              autoSkip: false,
              maxRotation: 0,
              padding: 10,
              color: '#262626',
              font: { family: 'DejaVu Sans', size: 32 },
              callback: (v: any) => String(v).replace('-', '\u2212'),
            },
          },
          y: {
            type: 'linear',
            min: -3.8,
            max: 4.55,
            afterBuildTicks: (s: any) => { s.ticks = yTicks.map((value) => ({ value })); },
            afterFit: (s: any) => { s.width = 159; },
            grid: { drawOnChartArea: false, tickLength: 13, tickColor: '#222', tickWidth: 2 },
            border: { color: '#222', width: 3 },
            ticks: {
              autoSkip: false,
              padding: 13,
              color: '#262626',
              font: { family: 'DejaVu Sans', size: 32 },
              callback: (v: any) => String(v).replace('-', '\u2212'),
            },
          },
        },
      },
      plugins: [scatterPlugin],
    });
    return () => chart.destroy();
  }, []);
  return <canvas ref={ref} width={1486} height={1157} style={{ position: 'absolute', left: 1640, top: 0 }} />;
};

export default function App() {
  useEffect(() => {
    document.body.style.margin = '0';
    document.body.style.background = '#fff';
  }, []);
  return (
    <div style={{ position: 'relative', width: 3126, height: 1157, overflow: 'hidden' }}>
      <Diagram />
      <Scatter />
    </div>
  );
}
